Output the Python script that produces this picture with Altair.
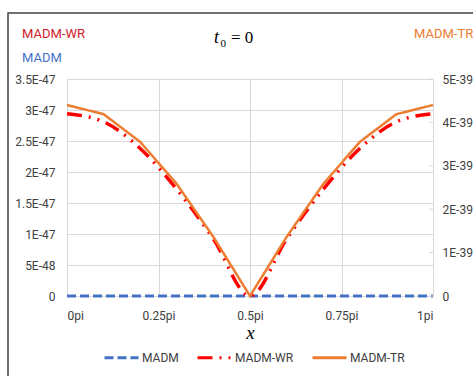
import altair as alt
import pandas as pd

# ---- data ----
x_pi = [0.0, 0.1, 0.2, 0.3, 0.4, 0.5, 0.6, 0.7, 0.8, 0.9, 1.0]
madm = [0, 0, 0, 0, 0, 0, 0, 0, 0, 0, 0]
madm_wr = [2.94e-47, 2.81e-47, 2.38e-47, 1.72e-47, 0.92e-47, 0.0,
           0.92e-47, 1.72e-47, 2.38e-47, 2.81e-47, 2.94e-47]
madm_tr = [4.40e-39, 4.19e-39, 3.55e-39, 2.58e-39, 1.36e-39, 0.0,
           1.36e-39, 2.58e-39, 3.55e-39, 4.19e-39, 4.40e-39]

series_names = ["MADM", "MADM-WR", "MADM-TR"]
series_colors = ["#4472C4", "#FF0000", "#ED7D31"]
series_dashes = [[9, 4], [15, 7, 2, 7, 2, 7], [1, 0]]

x_ticks = [0, 0.25, 0.5, 0.75, 1]
left_ticks = [0, 5e-48, 1e-47, 1.5e-47, 2e-47, 2.5e-47, 3e-47, 3.5e-47]
right_ticks = [0, 1e-39, 2e-39, 3e-39, 4e-39, 5e-39]

FONT = "Liberation Sans Narrow, Arial Narrow, Roboto, sans-serif"
SERIF = "Liberation Serif, Times New Roman, serif"
LABEL = "#404040"
GRID = "#d9d9d9"
FS = 12

df_madm = pd.DataFrame({"x": x_pi, "v": madm, "series": "MADM"})
df_wr = pd.DataFrame({"x": x_pi, "v": madm_wr, "series": "MADM-WR"})
df_tr = pd.DataFrame({"x": x_pi, "v": madm_tr, "series": "MADM-TR"})
df_rt = pd.DataFrame({"v": right_ticks})

legend = alt.Legend(
    title=None, orient="none", legendX=36, legendY=260, direction="horizontal",
    symbolType="stroke", symbolSize=1156, symbolStrokeWidth=3,
    labelFont=FONT, labelFontSize=FS, labelColor=LABEL, labelOffset=2,
    columnPadding=12,
)
color = alt.Color("series:N", scale=alt.Scale(domain=series_names, range=series_colors), legend=legend)
dash = alt.StrokeDash("series:N", scale=alt.Scale(domain=series_names, range=series_dashes), legend=legend)

x_axis = alt.Axis(values=x_ticks, labelExpr="datum.value + 'pi'", grid=True, gridColor=GRID,
                  domainColor=GRID, ticks=False, labelPadding=14, labelFont=FONT,
                  labelFontSize=FS, labelColor=LABEL, title="x", titleFont=SERIF,
                  titleFontStyle="italic", titleFontWeight="normal", titleFontSize=19,
                  titleColor="#000000", titlePadding=2)
x_enc = alt.X("x:Q", scale=alt.Scale(domain=[0, 1], nice=False), axis=x_axis)

left_axis = alt.Axis(values=left_ticks, orient="left", grid=True, gridColor=GRID, domain=False,
                     ticks=False, labelPadding=12, labelFont=FONT, labelFontSize=FS,
                     labelColor=LABEL, title=None,
                     labelExpr="datum.value == 0 ? '0' : replace(format(datum.value, '.2~e'), 'e', 'E')")
y_left = alt.Y("v:Q", scale=alt.Scale(domain=[0, 3.5e-47], nice=False, zero=True), axis=left_axis)

right_axis = alt.Axis(values=right_ticks, orient="right", grid=False, domainColor=GRID,
                      ticks=False, labelPadding=9, labelFont=FONT, labelFontSize=FS,
                      labelColor=LABEL, title=None,
                      labelExpr="datum.value == 0 ? '0' : replace(format(datum.value, '.2~e'), 'e', 'E')")
y_right = alt.Y("v:Q", scale=alt.Scale(domain=[0, 5e-39], nice=False, zero=True), axis=right_axis)

blue = alt.Chart(df_madm).mark_line(strokeWidth=3).encode(x=x_enc, y=y_left, color=color, strokeDash=dash)
red = alt.Chart(df_wr).mark_line(strokeWidth=3.5, interpolate="monotone").encode(
    x=x_enc, y=y_left, color=color, strokeDash=dash)
orange = alt.Chart(df_tr).mark_line(strokeWidth=2.5).encode(x=x_enc, y=y_right, color=color, strokeDash=dash)
rticks = alt.Chart(df_rt).mark_rule(color=GRID, strokeWidth=1).encode(
    y=y_right, x=alt.value(362), x2=alt.value(366))

left_layer = alt.layer(blue, red)
right_layer = alt.layer(orange, rticks)

frame = alt.Chart(pd.DataFrame({"a": [0]})).mark_rect(
    fill=None, stroke="#404040", strokeWidth=1.5, clip=False).encode(
    x=alt.value(-59), x2=alt.value(480), y=alt.value(-66), y2=alt.value(330))


def label(txt, x, y, col, size=13, font=FONT, style="normal", align="left"):
    return alt.Chart(pd.DataFrame({"t": [txt]})).mark_text(
        align=align, baseline="alphabetic", font=font, fontSize=size, fontStyle=style, color=col
    ).encode(x=alt.value(x), y=alt.value(y), text="t:N")


texts = [
    label("MADM-WR", -45, -41, "#D0202A"),
    label("MADM", -45, -17, "#4472C4"),
    label("MADM-TR", 347, -41, "#ED7D31"),
    label("t", 147, -36, "#000000", size=18, font=SERIF, style="italic"),
    label("0", 153.5, -32, "#000000", size=11, font=SERIF),
    label("= 0", 164, -36, "#000000", size=17, font=SERIF),
]

chart = alt.layer(left_layer, right_layer, frame, *texts).resolve_scale(
    y="independent"
).properties(
    width=366, height=217,
    padding={"left": 67, "top": 79, "right": 40, "bottom": 80},
    autosize=alt.AutoSizeParams(type="none"),
).configure_view(stroke=None)

chart.save("out.html", embed_options={"renderer": "svg", "actions": False})
